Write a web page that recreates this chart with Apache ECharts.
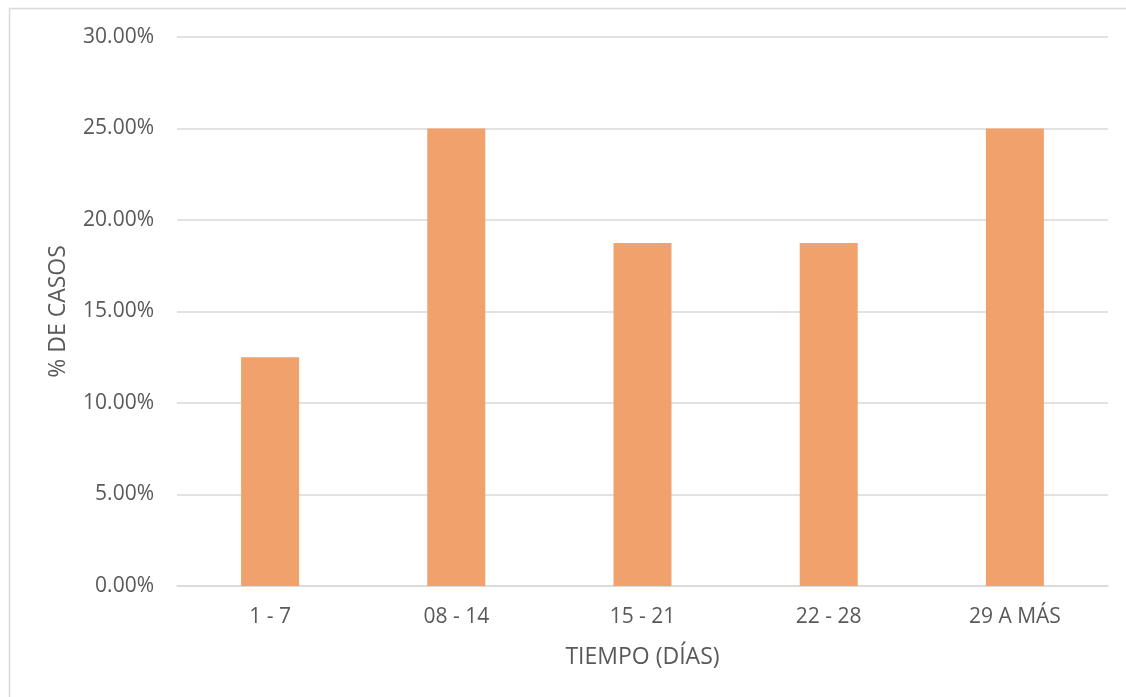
<!DOCTYPE html>
<html>
<head>
<meta charset="utf-8">
<script src="https://cdn.jsdelivr.net/npm/echarts@6/dist/echarts.min.js"></script>
<style>html,body{margin:0;padding:0;background:#fff}#c{width:1126px;height:697px}</style>
</head>
<body>
<div id="c"></div>
<script>
const categories = ['1 - 7', '08 - 14', '15 - 21', '22 - 28', '29 A MÁS'];
const values = [12.5, 25, 18.75, 18.75, 25];
const yTicks = {min: 0, max: 30, interval: 5};
const xName = 'TIEMPO (DÍAS)';
const yName = '% DE CASOS';

const chart = echarts.init(document.getElementById('c'));
const font = '"Open Sans", sans-serif';
chart.setOption({
  animation: false,
  graphic: [{
    type: 'rect', silent: true,
    shape: {x: 9.5, y: 8.5, width: 1200, height: 800},
    style: {fill: 'none', stroke: '#D9D9D9', lineWidth: 1.5}
  }],
  grid: {left: 177, right: 18, top: 37, bottom: 111},
  xAxis: {
    type: 'category', data: categories,
    name: xName, nameLocation: 'middle', nameGap: 60,
    nameTextStyle: {color: '#595959', fontSize: 23, fontFamily: font},
    axisLine: {show: true, lineStyle: {color: '#D9D9D9', width: 1.5}},
    axisTick: {show: false},
    axisLabel: {color: '#595959', fontSize: 21, fontFamily: font, margin: 21}
  },
  yAxis: {
    type: 'value', min: yTicks.min, max: yTicks.max, interval: yTicks.interval,
    name: yName, nameLocation: 'middle', nameGap: 107,
    nameTextStyle: {color: '#595959', fontSize: 23, fontFamily: font},
    axisLine: {show: false}, axisTick: {show: false},
    axisLabel: {color: '#595959', fontSize: 21, fontFamily: font, margin: 23,
      formatter: v => v.toFixed(2) + '%'},
    splitLine: {lineStyle: {color: '#D9D9D9', width: 1.5}}
  },
  series: [{
    type: 'bar', data: values, barWidth: 58,
    itemStyle: {color: '#F1A16B'}
  }]
});
</script>
</body>
</html>
